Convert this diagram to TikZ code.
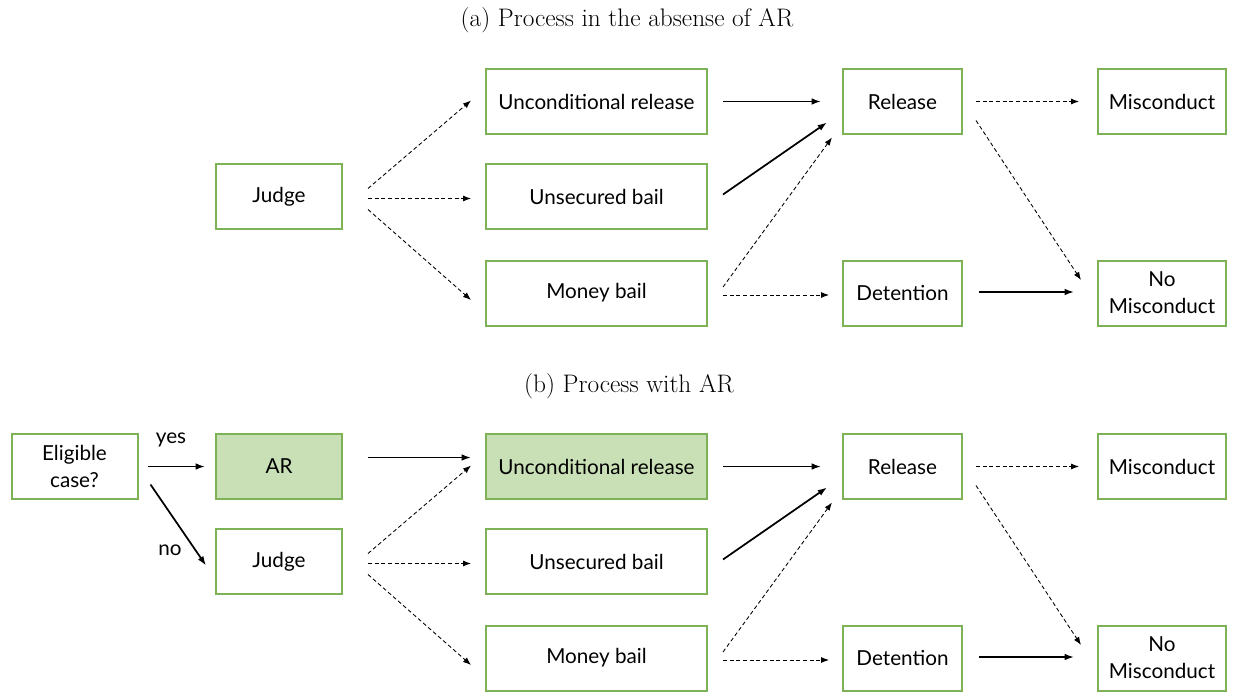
\documentclass[tikz,border=0pt]{standalone}
\usepackage{fontspec}
\newfontfamily\boxfont{Lato}
\usetikzlibrary{arrows.meta,calc}
\definecolor{bgreen}{HTML}{7DB356}
\definecolor{fgreen}{HTML}{C9DFB6}
\begin{document}
\begin{tikzpicture}[x=0.75pt,y=-0.75pt,
  box/.style={draw=bgreen, line width=1.5pt, inner sep=0pt, align=center,
    minimum height=48.75pt, font=\boxfont\fontsize{15.5}{20}\selectfont},
  sbox/.style={box, minimum width=94.5pt},
  wbox/.style={box, minimum width=165.75pt},
  rbox/.style={box, minimum width=89.25pt},
  mbox/.style={box, minimum width=96pt},
  filled/.style={fill=fgreen},
  solidarr/.style={-{Latex[length=7pt,width=5pt]}, line width=1.3pt},
  dasharr/.style={-{Latex[length=6pt,width=4.5pt]}, line width=0.65pt, dash pattern=on 3pt off 2pt},
  captxt/.style={font=\fontsize{19}{22}\selectfont},
  lbl/.style={font=\boxfont\fontsize{15.5}{18}\selectfont}]
\useasboundingbox (0,0) rectangle (1235,692);

% ---------- (a) ----------
\node[captxt] (capa) at (627,20) {(a) Process in the absense of AR};
\node[sbox] (ja) at (279,196.5) {Judge};
\node[wbox] (ua) at (596.5,101.5) {Unconditional release};
\node[wbox] (sa) at (596.5,196.5) {Unsecured bail};
\node[wbox] (ma) at (596.5,293) {Money bail};
\node[rbox] (ra) at (902.5,101.5) {Release};
\node[rbox] (da) at (902.5,293) {Detention};
\node[mbox] (misa) at (1162,101.5) {Misconduct};
\node[mbox] (noa) at (1162,293) {No\\Misconduct};

\draw[dasharr] ($(ja.east)+(25,-8)$) -- ($(ua.west)+(-14,-1)$);
\draw[dasharr] ($(ja.east)+(25,2)$) -- ($(sa.west)+(-14,2)$);
\draw[dasharr] ($(ja.east)+(25,13)$) -- ($(ma.west)+(-14,7)$);
\draw[solidarr] ($(ua.east)+(15,0)$) -- ($(ra.west)+(-21,0)$);
\draw[solidarr] ($(sa.east)+(15,-2)$) -- ($(ra.west)+(-15,21)$);
\draw[dasharr] ($(ma.east)+(15,-6)$) -- ($(ra.west)+(-10,36)$);
\draw[dasharr] ($(ma.east)+(15,2)$) -- ($(da.west)+(-13,2)$);
\draw[dasharr] ($(ra.east)+(13,0)$) -- ($(misa.west)+(-18,0)$);
\draw[dasharr] ($(ra.east)+(13,19)$) -- ($(noa.west)+(-16,-13)$);
\draw[solidarr] ($(da.east)+(16,-1)$) -- ($(noa.west)+(-23,-1)$);

% ---------- (b) ----------
\node[captxt] (capb) at (629,386) {(b) Process with AR};
\node[sbox] (el) at (74.5,466.5) {Eligible\\case?};
\node[sbox,filled] (ar) at (279,466.5) {AR};
\node[sbox] (jb) at (279,561.5) {Judge};
\node[wbox,filled] (ub) at (596.5,466.5) {Unconditional release};
\node[wbox] (sb) at (596.5,561.5) {Unsecured bail};
\node[wbox] (mb) at (596.5,658) {Money bail};
\node[rbox] (rb) at (902.5,466.5) {Release};
\node[rbox] (db) at (902.5,658) {Detention};
\node[mbox] (misb) at (1162,466.5) {Misconduct};
\node[mbox] (nob) at (1162,658) {No\\Misconduct};

\draw[solidarr] ($(el.east)+(9,0)$) -- ($(ar.west)+(-10,0)$);
\node[lbl] (yes) at (171,440) {yes};
\draw[solidarr] ($(el.east)+(12,18)$) -- ($(jb.west)+(-9,4)$);
\node[lbl] (no) at (170,550) {no};
\draw[solidarr] ($(ar.east)+(25,-9)$) -- ($(ub.west)+(-14,-9)$);
\draw[dasharr] ($(jb.east)+(25,-8)$) -- ($(ub.west)+(-14,-1)$);
\draw[dasharr] ($(jb.east)+(25,2)$) -- ($(sb.west)+(-14,2)$);
\draw[dasharr] ($(jb.east)+(25,13)$) -- ($(mb.west)+(-14,7)$);
\draw[solidarr] ($(ub.east)+(15,0)$) -- ($(rb.west)+(-21,0)$);
\draw[solidarr] ($(sb.east)+(15,-2)$) -- ($(rb.west)+(-15,21)$);
\draw[dasharr] ($(mb.east)+(15,-6)$) -- ($(rb.west)+(-10,36)$);
\draw[dasharr] ($(mb.east)+(15,2)$) -- ($(db.west)+(-13,2)$);
\draw[dasharr] ($(rb.east)+(13,0)$) -- ($(misb.west)+(-18,0)$);
\draw[dasharr] ($(rb.east)+(13,19)$) -- ($(nob.west)+(-16,-13)$);
\draw[solidarr] ($(db.east)+(16,-1)$) -- ($(nob.west)+(-23,-1)$);
\end{tikzpicture}
\end{document}
